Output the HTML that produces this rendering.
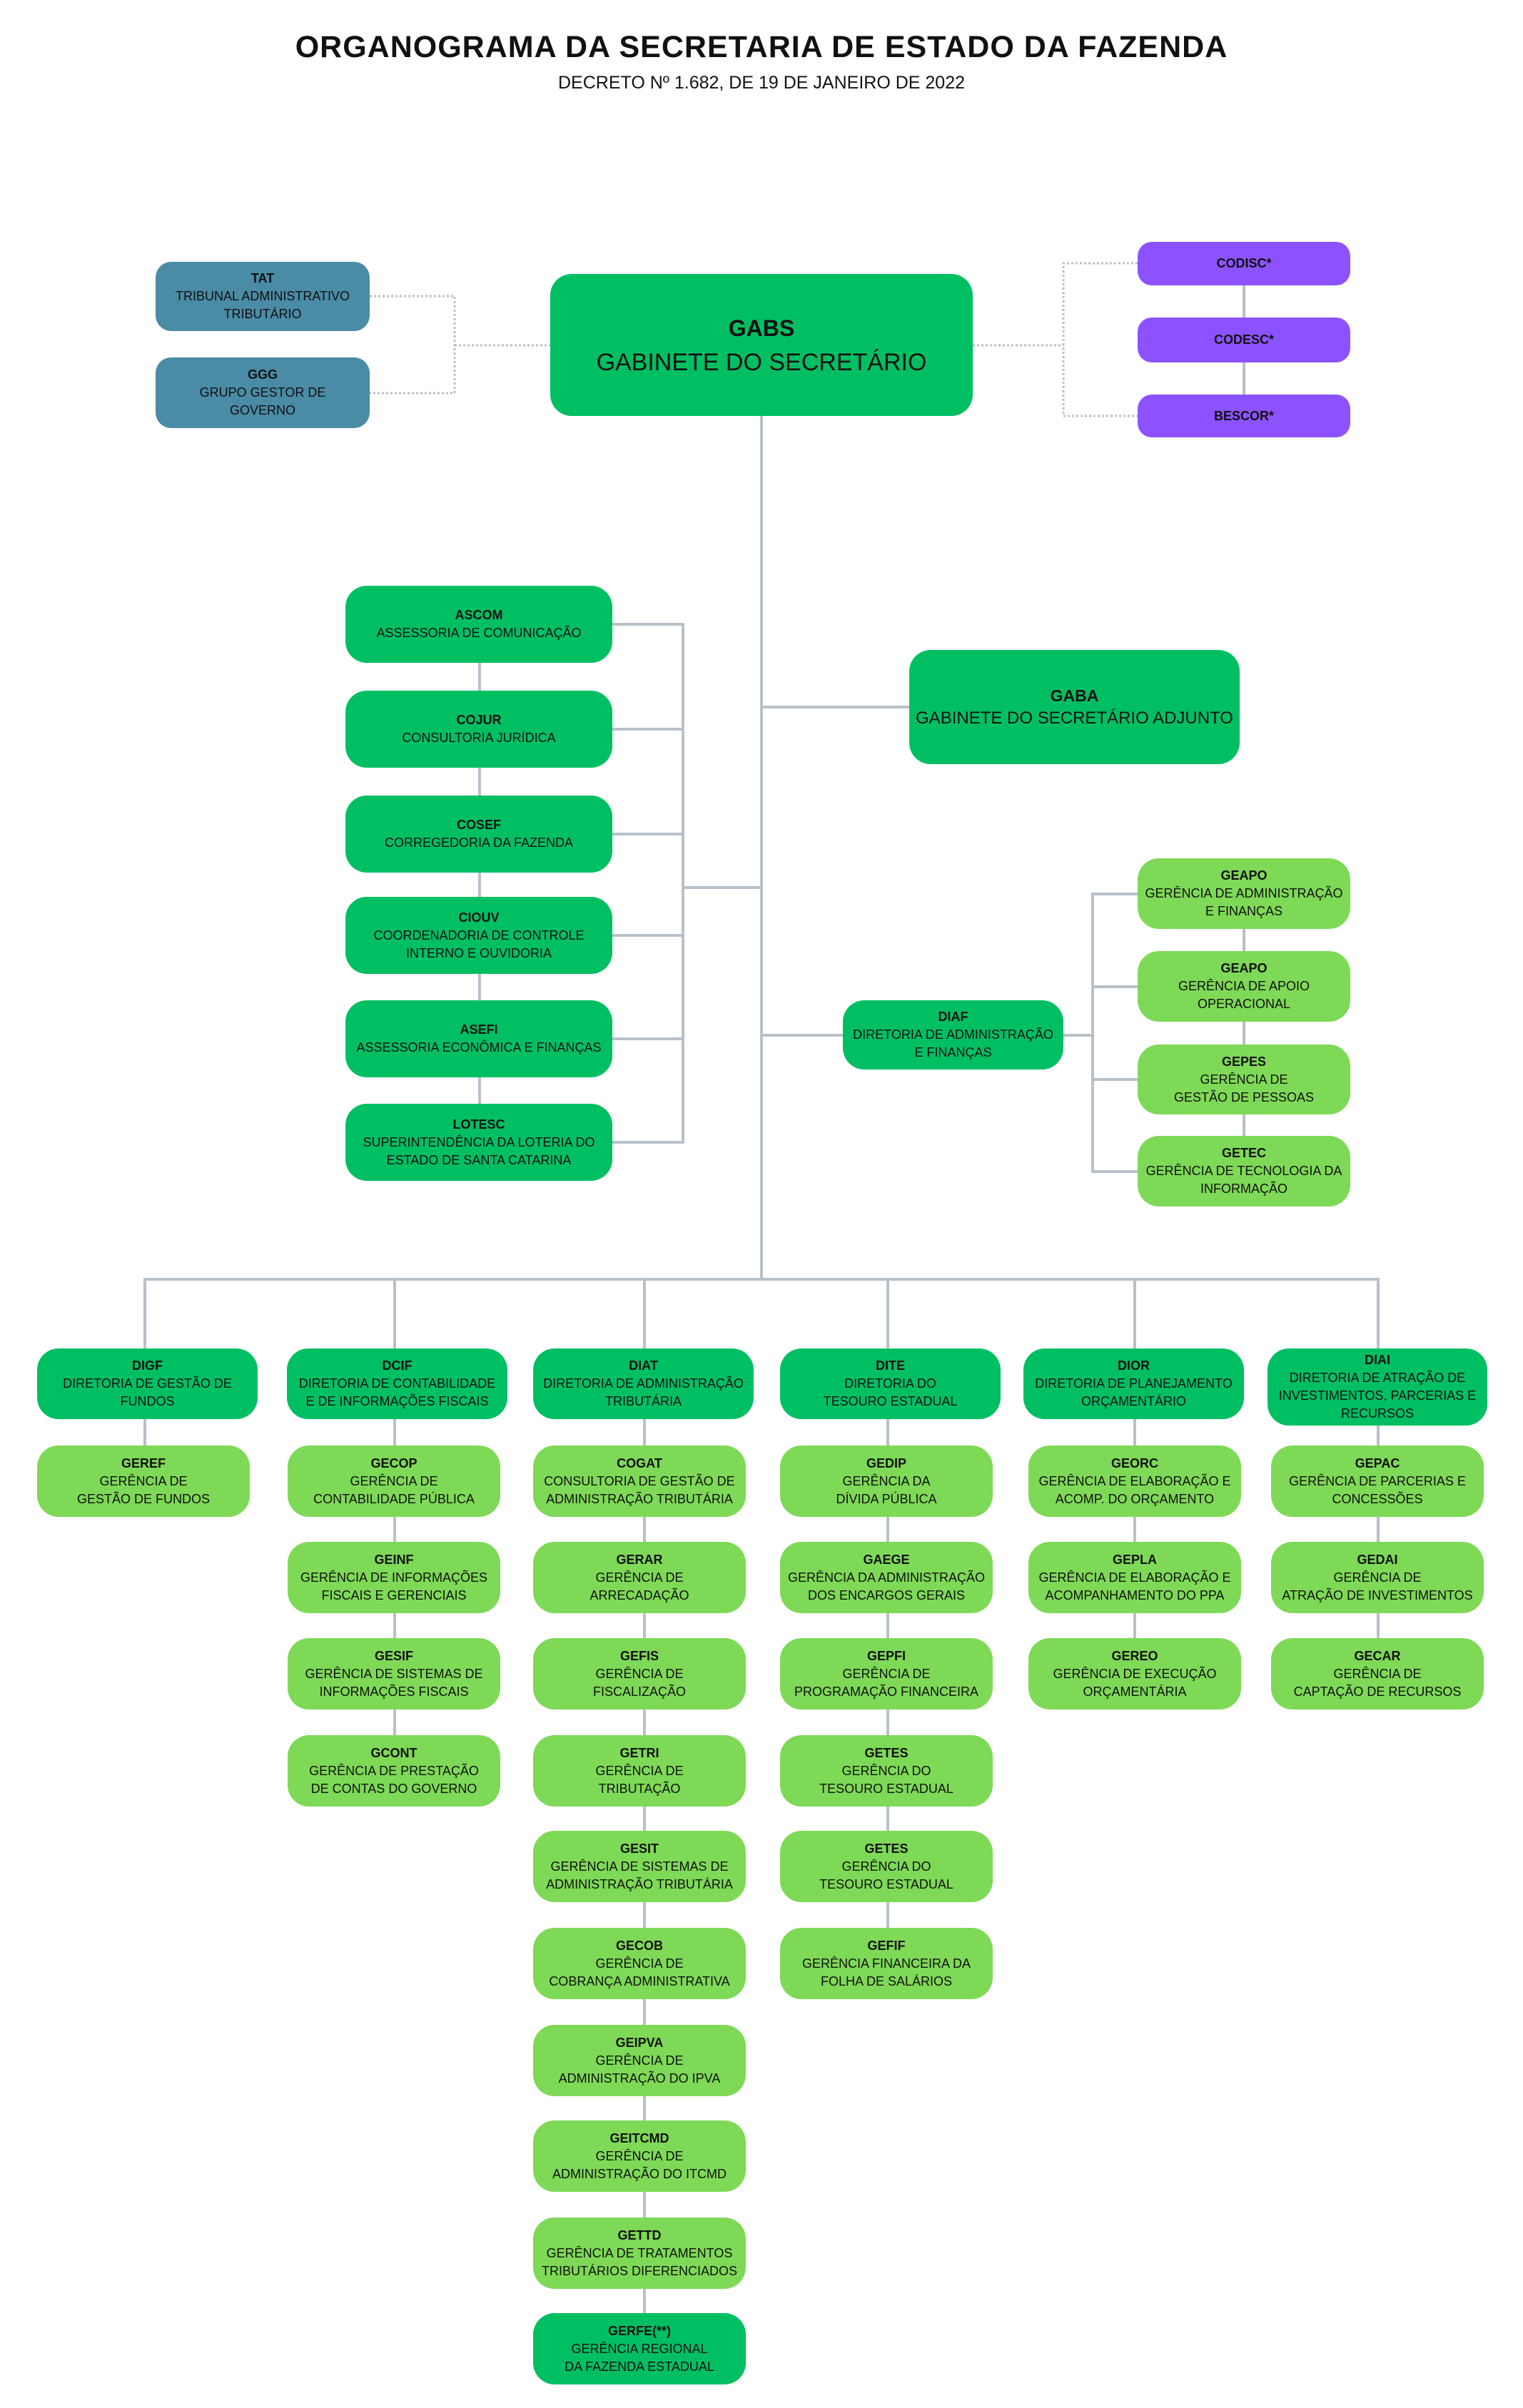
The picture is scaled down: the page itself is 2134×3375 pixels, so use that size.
<!DOCTYPE html>
<html><head><meta charset="utf-8"><style>
body{margin:0;width:2134px;height:3375px;background:#fff;position:relative;font-family:"Liberation Sans",sans-serif;overflow:hidden}
.t{position:absolute;left:0;width:2134px;text-align:center;color:#111}
.b{position:absolute;display:flex;flex-direction:column;justify-content:center;align-items:center;text-align:center;border-radius:30px;font-size:18px;line-height:25px;color:#111;white-space:nowrap;box-sizing:border-box}
.b b{font-size:18px}
.d{background:#00bf63}.l{background:#7ed957}.p{background:#8c52ff;border-radius:20px}.s{background:#4a8ba6;border-radius:22px}
.g{width:298px;height:100px}
</style></head><body>
<div class="t" style="top:42px;font-size:43px;font-weight:bold;letter-spacing:1px">ORGANOGRAMA DA SECRETARIA DE ESTADO DA FAZENDA</div>
<div class="t" style="top:102px;font-size:25px">DECRETO Nº 1.682, DE 19 DE JANEIRO DE 2022</div>

<svg width="2134" height="3375" style="position:absolute;left:0;top:0">
<g fill="none" stroke="#b8c1c9" stroke-width="3" stroke-dasharray="3,3">
<path d="M518 415H637V551H518M637 484H771"/>
<path d="M1363 484H1490M1594 369H1490V583H1594"/>
</g>
<g fill="none" stroke="#b8c1c9" stroke-width="4">
<path d="M1743 369V583"/>
<path d="M1067 583V1793"/>
<path d="M672 875V1600"/>
<path d="M858 875H957V1601H858M858 1022H957M858 1169H957M858 1311H957M858 1456H957M957 1244H1067"/>
<path d="M1067 991H1274M1067 1451H1181M1490 1451H1531"/>
<path d="M1594 1253H1531V1642H1594M1531 1383H1594M1531 1513H1594M1743 1253V1642"/>
<path d="M203 1890V1793H1931V1890"/>
<path d="M553 1793V2482M903 1793V3292M1244 1793V2752M1590 1793V2345M1931 1793V2345M203 1793V2076"/>
</g>
</svg>

<div class="b s" style="left:218px;top:367px;width:300px;height:97px"><b>TAT</b>TRIBUNAL ADMINISTRATIVO<br>TRIBUTÁRIO</div>
<div class="b s" style="left:218px;top:501px;width:300px;height:99px"><b>GGG</b>GRUPO GESTOR DE<br>GOVERNO</div>
<div class="b d" style="left:771px;top:384px;width:592px;height:199px;font-size:34px;line-height:48px"><b style="font-size:32px">GABS</b>GABINETE DO SECRETÁRIO</div>
<div class="b p" style="left:1594px;top:339px;width:298px;height:61px"><b>CODISC*</b></div>
<div class="b p" style="left:1594px;top:445px;width:298px;height:63px"><b>CODESC*</b></div>
<div class="b p" style="left:1594px;top:553px;width:298px;height:60px"><b>BESCOR*</b></div>

<div class="b d" style="left:484px;top:821px;width:374px;height:108px"><b>ASCOM</b>ASSESSORIA DE COMUNICAÇÃO</div>
<div class="b d" style="left:484px;top:968px;width:374px;height:108px"><b>COJUR</b>CONSULTORIA JURÍDICA</div>
<div class="b d" style="left:484px;top:1115px;width:374px;height:108px"><b>COSEF</b>CORREGEDORIA DA FAZENDA</div>
<div class="b d" style="left:484px;top:1257px;width:374px;height:108px"><b>CIOUV</b>COORDENADORIA DE CONTROLE<br>INTERNO E OUVIDORIA</div>
<div class="b d" style="left:484px;top:1402px;width:374px;height:108px"><b>ASEFI</b>ASSESSORIA ECONÔMICA E FINANÇAS</div>
<div class="b d" style="left:484px;top:1547px;width:374px;height:108px"><b>LOTESC</b>SUPERINTENDÊNCIA DA LOTERIA DO<br>ESTADO DE SANTA CATARINA</div>

<div class="b d" style="left:1274px;top:911px;width:463px;height:160px;font-size:24px;line-height:32px"><b style="font-size:23px">GABA</b>GABINETE DO SECRETÁRIO ADJUNTO</div>
<div class="b d" style="left:1181px;top:1402px;width:309px;height:97px"><b>DIAF</b>DIRETORIA DE ADMINISTRAÇÃO<br>E FINANÇAS</div>
<div class="b l" style="left:1594px;top:1203px;width:298px;height:99px"><b>GEAPO</b>GERÊNCIA DE ADMINISTRAÇÃO<br>E FINANÇAS</div>
<div class="b l" style="left:1594px;top:1333px;width:298px;height:99px"><b>GEAPO</b>GERÊNCIA DE APOIO<br>OPERACIONAL</div>
<div class="b l" style="left:1594px;top:1464px;width:298px;height:98px"><b>GEPES</b>GERÊNCIA DE<br>GESTÃO DE PESSOAS</div>
<div class="b l" style="left:1594px;top:1592px;width:298px;height:99px"><b>GETEC</b>GERÊNCIA DE TECNOLOGIA DA<br>INFORMAÇÃO</div>

<div class="b d" style="left:52px;top:1890px;width:309px;height:99px"><b>DIGF</b>DIRETORIA DE GESTÃO DE<br>FUNDOS</div>
<div class="b d" style="left:402px;top:1890px;width:309px;height:99px"><b>DCIF</b>DIRETORIA DE CONTABILIDADE<br>E DE INFORMAÇÕES FISCAIS</div>
<div class="b d" style="left:747px;top:1890px;width:309px;height:99px"><b>DIAT</b>DIRETORIA DE ADMINISTRAÇÃO<br>TRIBUTÁRIA</div>
<div class="b d" style="left:1093px;top:1890px;width:309px;height:99px"><b>DITE</b>DIRETORIA DO<br>TESOURO ESTADUAL</div>
<div class="b d" style="left:1434px;top:1890px;width:309px;height:99px"><b>DIOR</b>DIRETORIA DE PLANEJAMENTO<br>ORÇAMENTÁRIO</div>
<div class="b d" style="left:1776px;top:1890px;width:308px;height:108px"><b>DIAI</b>DIRETORIA DE ATRAÇÃO DE<br>INVESTIMENTOS, PARCERIAS E<br>RECURSOS</div>

<div class="b l g" style="left:52px;top:2026px"><b>GEREF</b>GERÊNCIA DE<br>GESTÃO DE FUNDOS</div>

<div class="b l g" style="left:403px;top:2026px"><b>GECOP</b>GERÊNCIA DE<br>CONTABILIDADE PÚBLICA</div>
<div class="b l g" style="left:403px;top:2161px"><b>GEINF</b>GERÊNCIA DE INFORMAÇÕES<br>FISCAIS E GERENCIAIS</div>
<div class="b l g" style="left:403px;top:2296px"><b>GESIF</b>GERÊNCIA DE SISTEMAS DE<br>INFORMAÇÕES FISCAIS</div>
<div class="b l g" style="left:403px;top:2432px"><b>GCONT</b>GERÊNCIA DE PRESTAÇÃO<br>DE CONTAS DO GOVERNO</div>

<div class="b l g" style="left:747px;top:2026px"><b>COGAT</b>CONSULTORIA DE GESTÃO DE<br>ADMINISTRAÇÃO TRIBUTÁRIA</div>
<div class="b l g" style="left:747px;top:2161px"><b>GERAR</b>GERÊNCIA DE<br>ARRECADAÇÃO</div>
<div class="b l g" style="left:747px;top:2296px"><b>GEFIS</b>GERÊNCIA DE<br>FISCALIZAÇÃO</div>
<div class="b l g" style="left:747px;top:2432px"><b>GETRI</b>GERÊNCIA DE<br>TRIBUTAÇÃO</div>
<div class="b l g" style="left:747px;top:2566px"><b>GESIT</b>GERÊNCIA DE SISTEMAS DE<br>ADMINISTRAÇÃO TRIBUTÁRIA</div>
<div class="b l g" style="left:747px;top:2702px"><b>GECOB</b>GERÊNCIA DE<br>COBRANÇA ADMINISTRATIVA</div>
<div class="b l g" style="left:747px;top:2838px"><b>GEIPVA</b>GERÊNCIA DE<br>ADMINISTRAÇÃO DO IPVA</div>
<div class="b l g" style="left:747px;top:2972px"><b>GEITCMD</b>GERÊNCIA DE<br>ADMINISTRAÇÃO DO ITCMD</div>
<div class="b l g" style="left:747px;top:3108px"><b>GETTD</b>GERÊNCIA DE TRATAMENTOS<br>TRIBUTÁRIOS DIFERENCIADOS</div>
<div class="b d g" style="left:747px;top:3242px"><b>GERFE(**)</b>GERÊNCIA REGIONAL<br>DA FAZENDA ESTADUAL</div>

<div class="b l g" style="left:1093px;top:2026px"><b>GEDIP</b>GERÊNCIA DA<br>DÍVIDA PÚBLICA</div>
<div class="b l g" style="left:1093px;top:2161px"><b>GAEGE</b>GERÊNCIA DA ADMINISTRAÇÃO<br>DOS ENCARGOS GERAIS</div>
<div class="b l g" style="left:1093px;top:2296px"><b>GEPFI</b>GERÊNCIA DE<br>PROGRAMAÇÃO FINANCEIRA</div>
<div class="b l g" style="left:1093px;top:2432px"><b>GETES</b>GERÊNCIA DO<br>TESOURO ESTADUAL</div>
<div class="b l g" style="left:1093px;top:2566px"><b>GETES</b>GERÊNCIA DO<br>TESOURO ESTADUAL</div>
<div class="b l g" style="left:1093px;top:2702px"><b>GEFIF</b>GERÊNCIA FINANCEIRA DA<br>FOLHA DE SALÁRIOS</div>

<div class="b l g" style="left:1441px;top:2026px"><b>GEORC</b>GERÊNCIA DE ELABORAÇÃO E<br>ACOMP. DO ORÇAMENTO</div>
<div class="b l g" style="left:1441px;top:2161px"><b>GEPLA</b>GERÊNCIA DE ELABORAÇÃO E<br>ACOMPANHAMENTO DO PPA</div>
<div class="b l g" style="left:1441px;top:2296px"><b>GEREO</b>GERÊNCIA DE EXECUÇÃO<br>ORÇAMENTÁRIA</div>

<div class="b l g" style="left:1781px;top:2026px"><b>GEPAC</b>GERÊNCIA DE PARCERIAS E<br>CONCESSÕES</div>
<div class="b l g" style="left:1781px;top:2161px"><b>GEDAI</b>GERÊNCIA DE<br>ATRAÇÃO DE INVESTIMENTOS</div>
<div class="b l g" style="left:1781px;top:2296px"><b>GECAR</b>GERÊNCIA DE<br>CAPTAÇÃO DE RECURSOS</div>
</body></html>
